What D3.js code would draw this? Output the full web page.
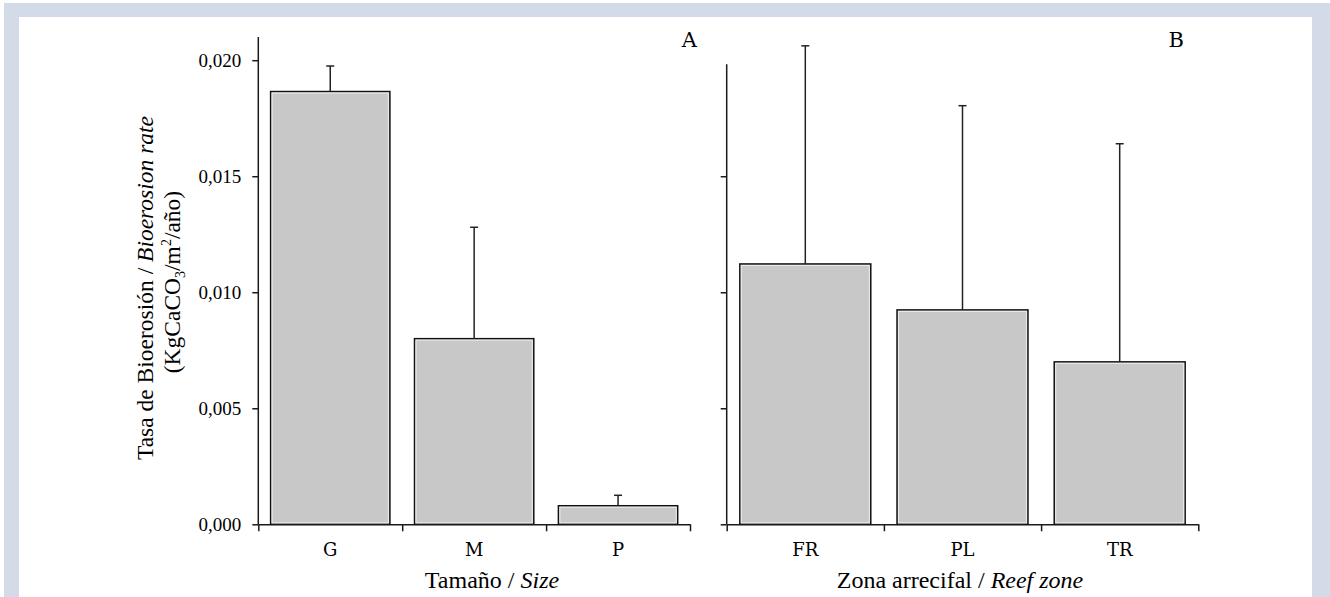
<!DOCTYPE html>
<html>
<head>
<meta charset="utf-8">
<script src="https://cdn.jsdelivr.net/npm/d3@7"></script>
<style>
  body { margin: 0; background: #ffffff; }
  .tick-label { font-family: "Liberation Serif", "Times New Roman", serif; font-size: 19px; fill: #000; }
  .cat-label { font-family: "DejaVu Serif", serif; font-size: 18px; fill: #000; }
  .title { font-family: "Liberation Serif", "Times New Roman", serif; font-size: 24px; fill: #000; }
</style>
</head>
<body>
<div class="chart"></div>
<script>
// data
const SIZE_CATS = ["G", "M", "P"];
const SIZE_MEANS = [0.01865, 0.0080, 0.0008];
const SIZE_ERR = [0.0011, 0.0048, 0.00045];

const ZONE_CATS = ["FR", "PL", "TR"];
const ZONE_MEANS = [0.01122, 0.00924, 0.0070];
const ZONE_ERR = [0.0094, 0.0088, 0.0094];

const Y_TICKS = [0, 0.005, 0.010, 0.015, 0.020];
const Y_TICKS_RIGHT = [0, 0.005, 0.010, 0.015];

let FRAME_WIDTH = 1330;
let FRAME_HEIGHT = 597;

let FRAME = d3.select(".chart")
              .append("svg")
              .attr("width", FRAME_WIDTH)
              .attr("height", FRAME_HEIGHT);

// page border
FRAME.append("rect")
     .attr("x", 0).attr("y", 0)
     .attr("width", FRAME_WIDTH).attr("height", FRAME_HEIGHT)
     .attr("fill", "#ffffff");
FRAME.append("rect")
     .attr("x", 4).attr("y", 3)
     .attr("width", FRAME_WIDTH - 4).attr("height", FRAME_HEIGHT - 3)
     .attr("fill", "#d3dae8");
FRAME.append("rect")
     .attr("x", 19).attr("y", 17)
     .attr("width", 1312 - 19).attr("height", FRAME_HEIGHT - 17)
     .attr("fill", "#ffffff");

const Y_BOTTOM = 524.3;
const Y_TOP = 37;
const Y_SCALE = d3.scaleLinear()
                  .domain([0, 0.021])
                  .range([Y_BOTTOM, Y_TOP]);

const fmt = (v) => d3.format(".3f")(v).replace(".", ",");

function drawPanel(left, right, cats, means, errs, pad, opts) {
    const X_BAND = d3.scaleBand()
                     .domain(cats)
                     .range([left, right])
                     .paddingInner(pad)
                     .paddingOuter(pad / 2);

    const X_EDGES = d3.scaleLinear()
                      .domain([0, cats.length])
                      .range([left, right]);

    const AXIS_STYLE = (g) => {
        g.selectAll("path, line").attr("stroke", "#1a1a1a").attr("stroke-width", 1.5);
    };

    // bars
    FRAME.selectAll(null)
         .data(cats)
         .enter()
         .append("rect")
           .attr("x", (d) => X_BAND(d))
           .attr("y", (d, i) => Y_SCALE(means[i]))
           .attr("width", X_BAND.bandwidth())
           .attr("height", (d, i) => Y_BOTTOM - Y_SCALE(means[i]))
           .attr("fill", "#c8c8c8")
           .attr("stroke", "#111")
           .attr("stroke-width", 1.5);

    // thin light edge inside the bars
    FRAME.selectAll(null)
         .data(cats)
         .enter()
         .append("rect")
           .attr("x", (d) => X_BAND(d) + 1.5)
           .attr("y", (d, i) => Y_SCALE(means[i]) + 1.5)
           .attr("width", X_BAND.bandwidth() - 3)
           .attr("height", (d, i) => Math.max(0, Y_BOTTOM - Y_SCALE(means[i]) - 3))
           .attr("fill", "none")
           .attr("stroke", "#ececec")
           .attr("stroke-width", 1);

    // error bars (upper only)
    const cx = (d) => X_BAND(d) + X_BAND.bandwidth() / 2;
    FRAME.selectAll(null)
         .data(cats)
         .enter()
         .append("line")
           .attr("x1", cx).attr("x2", cx)
           .attr("y1", (d, i) => Y_SCALE(means[i]))
           .attr("y2", (d, i) => Y_SCALE(means[i] + errs[i]))
           .attr("stroke", "#222")
           .attr("stroke-width", 1.5);
    FRAME.selectAll(null)
         .data(cats)
         .enter()
         .append("line")
           .attr("x1", (d) => cx(d) - 4).attr("x2", (d) => cx(d) + 4)
           .attr("y1", (d, i) => Y_SCALE(means[i] + errs[i]))
           .attr("y2", (d, i) => Y_SCALE(means[i] + errs[i]))
           .attr("stroke", "#222")
           .attr("stroke-width", 1.5);

    // x axis: ticks at the band edges, labels at the centres
    FRAME.append("g")
         .attr("transform", "translate(0," + Y_BOTTOM + ")")
         .call(d3.axisBottom(X_EDGES)
                 .tickValues(d3.range(cats.length + 1))
                 .tickSize(7)
                 .tickSizeOuter(0)
                 .tickFormat(""))
         .call(AXIS_STYLE);

    FRAME.selectAll(null)
         .data(cats)
         .enter()
         .append("text")
           .attr("class", "cat-label")
           .attr("x", cx)
           .attr("y", 556)
           .attr("text-anchor", "middle")
           .text((d) => d);

    // y axis
    let yAxis = FRAME.append("g")
         .attr("transform", "translate(" + left + ",0)")
         .call(d3.axisLeft(Y_SCALE)
                 .tickValues(opts.ticks)
                 .tickSize(6)
                 .tickSizeOuter(0)
                 .tickPadding(11)
                 .tickFormat(opts.labels ? fmt : ""))
         .call(AXIS_STYLE);
    yAxis.select(".domain").remove();
    yAxis.selectAll("text")
         .attr("class", "tick-label")
         .attr("font-family", null).attr("font-size", null);
    FRAME.append("line")
         .attr("x1", left).attr("x2", left)
         .attr("y1", Y_BOTTOM).attr("y2", opts.top)
         .attr("stroke", "#1a1a1a")
         .attr("stroke-width", 1.5);

    // panel letter
    FRAME.append("text")
         .attr("class", "cat-label")
         .style("font-size", "21px")
         .attr("x", opts.letterX)
         .attr("y", 46.7)
         .attr("text-anchor", "end")
         .text(opts.letter);

    // x axis title
    let t = FRAME.append("text")
         .attr("class", "title")
         .attr("x", opts.titleX)
         .attr("y", 588)
         .attr("text-anchor", "middle");
    t.append("tspan").text(opts.title[0]);
    t.append("tspan").style("font-style", "italic").text(opts.title[1]);
}

drawPanel(258.3, 690, SIZE_CATS, SIZE_MEANS, SIZE_ERR, 0.171,
          {ticks: Y_TICKS, labels: true, top: Y_TOP, letter: "A", letterX: 697,
           title: ["Tamaño / ", "Size"], titleX: 492});

drawPanel(726.7, 1198.3, ZONE_CATS, ZONE_MEANS, ZONE_ERR, 0.167,
          {ticks: Y_TICKS_RIGHT, labels: false, top: 64.3, letter: "B", letterX: 1184,
           title: ["Zona arrecifal / ", "Reef zone"], titleX: 960});

// y axis title, two lines
let yTitle1 = FRAME.append("text")
     .attr("class", "title")
     .style("font-size", "23.5px")
     .attr("text-anchor", "middle")
     .attr("transform", "translate(153,288) rotate(-90)");
yTitle1.append("tspan").text("Tasa de Bioerosión / ");
yTitle1.append("tspan").style("font-style", "italic").text("Bioerosion rate");

let yTitle2 = FRAME.append("text")
     .attr("class", "title")
     .style("font-size", "23.5px")
     .attr("text-anchor", "middle")
     .attr("transform", "translate(180,282) rotate(-90)");
yTitle2.append("tspan").text("(KgCaCO");
yTitle2.append("tspan").style("font-size", "14px").attr("dy", 5).text("3");
yTitle2.append("tspan").attr("dy", -5).text("/m");
yTitle2.append("tspan").style("font-size", "14px").attr("dy", -9).text("2");
yTitle2.append("tspan").attr("dy", 9).text("/año)");
</script>
</body>
</html>
